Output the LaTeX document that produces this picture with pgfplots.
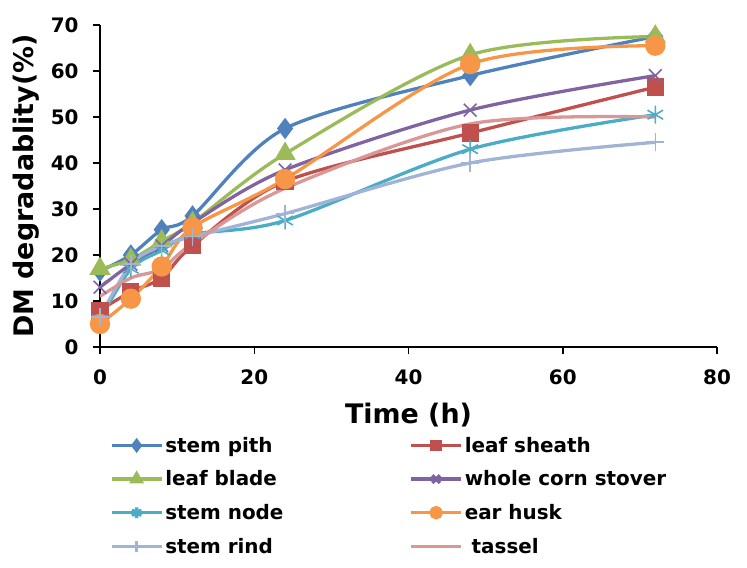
\documentclass[border=0pt]{standalone}
\usepackage{pgfplots}
\pgfplotsset{compat=1.18}
\usepackage{fontspec}
\setmainfont{DejaVu Sans}

\definecolor{cpith}{HTML}{4F81BD}
\definecolor{csheath}{HTML}{C0504D}
\definecolor{cblade}{HTML}{9BBB59}
\definecolor{cwhole}{HTML}{8064A2}
\definecolor{cnode}{HTML}{4BACC6}
\definecolor{chusk}{HTML}{F79646}
\definecolor{crind}{HTML}{A2B4D6}
\definecolor{ctassel}{HTML}{D99795}

\begin{document}
\begin{tikzpicture}
\begin{axis}[
    name=ax,
    scale only axis,
    width=617bp, height=322bp,
    xmin=0, xmax=80, ymin=0, ymax=70,
    xtick={0,20,40,60,80},
    ytick={0,10,20,30,40,50,60,70},
    axis lines=left,
    axis line style={-, line width=1.8pt, black},
    tick align=outside,
    major tick length=7bp,
    tick style={line width=1.5pt, black},
    tick label style={font=\fontsize{20}{24}\selectfont\bfseries},
    xticklabel style={yshift=-12bp},
    yticklabel style={xshift=-11bp},
    /pgf/number format/assume math mode=true,
    xlabel={Time (h)},
    ylabel={DM degradablity(\%)},
    label style={font=\fontsize{27}{30}\selectfont\bfseries},
    xlabel style={yshift=-12bp},
    ylabel style={yshift=5bp},
    every axis plot/.append style={line width=3.3pt, smooth, tension=0.5},
    legend columns=2,
    legend cell align=left,
    legend style={draw=none, fill=none, at={(0.011,-0.267)}, anchor=north west,
        font=\fontsize{20}{24}\selectfont\bfseries,
        /tikz/every even column/.append style={column sep=124bp},
        row sep=13bp},
    legend image code/.code={
        \draw[#1, mark repeat=2, mark phase=2, mark options={scale=0.6}] plot coordinates {(0bp,0bp) (25bp,0bp) (50bp,0bp)};},
]
\addplot[color=cpith, mark=diamond*, mark size=8bp, mark options={solid, fill=cpith}]
  coordinates {(0,16.5)(4,20)(8,25.5)(12,28.5)(24,47.5)(48,59)(72,67.5)};
\addlegendentry{stem pith}
\addplot[color=csheath, mark=square*, mark size=7bp, mark options={solid, fill=csheath}]
  coordinates {(0,8)(4,12)(8,15)(12,22)(24,36)(48,46.5)(72,56.5)};
\addlegendentry{leaf sheath}
\addplot[color=cblade, mark=triangle*, mark size=9bp, mark options={solid, fill=cblade}]
  coordinates {(0,17)(4,19)(8,23)(12,27)(24,42)(48,63.5)(72,67.5)};
\addlegendentry{leaf blade}
\addplot[color=cwhole, mark=x, mark size=9bp, mark options={solid, line width=1.6pt}]
  coordinates {(0,13)(4,18)(8,22)(12,27)(24,38.5)(48,51.5)(72,59)};
\addlegendentry{whole corn stover}
\addplot[color=cnode, mark=asterisk, mark size=9bp, mark options={solid, line width=1.6pt}]
  coordinates {(0,6)(4,17)(8,21)(12,24.5)(24,27.5)(48,43)(72,50.5)};
\addlegendentry{stem node}
\addplot[color=chusk, mark=*, mark size=8.5bp, mark options={solid, fill=chusk}]
  coordinates {(0,5)(4,10.5)(8,17.5)(12,26)(24,36.5)(48,61.5)(72,65.5)};
\addlegendentry{ear husk}
\addplot[color=crind, mark=+, mark size=9bp, mark options={solid, line width=1.6pt}]
  coordinates {(0,6.5)(4,18)(8,22)(12,24)(24,29)(48,40)(72,44.5)};
\addlegendentry{stem rind}
\addplot[color=ctassel, no marks]
  coordinates {(0,11)(4,15)(8,17)(12,22.5)(24,34.5)(48,48.5)(72,50)};
\addlegendentry{\ tassel}
\end{axis}
\path ([shift={(-100bp,-221bp)}]ax.south west) rectangle ([shift={(30bp,25bp)}]ax.north east);
\end{tikzpicture}
\end{document}
